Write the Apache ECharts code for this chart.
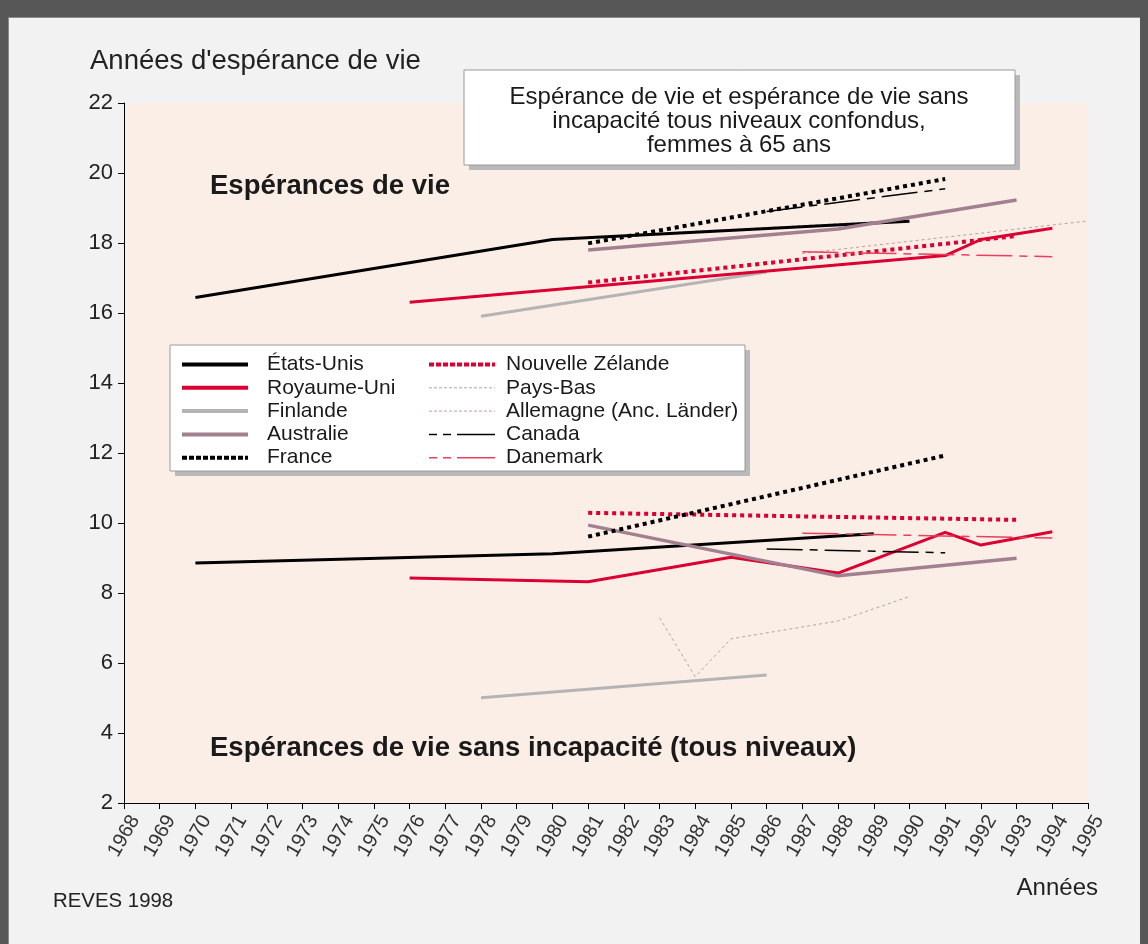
<!DOCTYPE html>
<html>
<head>
<meta charset="utf-8">
<script src="https://cdn.jsdelivr.net/npm/echarts@6/dist/echarts.min.js"></script>
<style>
  html, body { margin: 0; padding: 0; background: #575757; }
  #panel { position: absolute; left: 8px; top: 17px; width: 1132px; height: 927px; background: #f2f2f2; box-shadow: inset 1px 1px 0 #8a8a8a; }
  #chart { position: absolute; left: 0; top: 0; width: 1148px; height: 944px; }
</style>
</head>
<body>
<div id="panel"></div>
<div id="chart"></div>
<script>
// axes
const yearTicks = [1968, 1995];
const valueTicks = [2, 22];

// espérance de vie (haut)
const usYearsLE = [1970, 1980, 1990];
const usLE = [16.44, 18.1, 18.62];
const ukYearsLE = [1976, 1991, 1992, 1994];
const ukLE = [16.31, 17.64, 18.1, 18.42];
const fiYearsLE = [1978, 1986];
const fiLE = [15.91, 17.17];
const auYearsLE = [1981, 1988, 1993];
const auLE = [17.8, 18.4, 19.23];
const frYearsLE = [1981, 1991];
const frLE = [17.99, 19.83];
const nzYearsLE = [1981, 1993];
const nzLE = [16.87, 18.2];
const nlYearsLE = [1983, 1990];
const nlLE = [18.28, 18.66];
const deYearsLE = [1987, 1995];
const deLE = [17.7, 18.63];
const caYearsLE = [1986, 1991];
const caLE = [18.9, 19.55];
const dkYearsLE = [1987, 1994];
const dkLE = [17.75, 17.61];

// espérance de vie sans incapacité (bas)
const usYearsDF = [1970, 1980, 1989];
const usDF = [8.86, 9.12, 9.69];
const ukYearsDF = [1976, 1981, 1985, 1988, 1991, 1992, 1994];
const ukDF = [8.43, 8.32, 9.02, 8.57, 9.73, 9.37, 9.75];
const fiYearsDF = [1978, 1986];
const fiDF = [5.01, 5.66];
const auYearsDF = [1981, 1988, 1993];
const auDF = [9.94, 8.49, 8.99];
const frYearsDF = [1981, 1991];
const frDF = [9.61, 11.93];
const nzYearsDF = [1981, 1993];
const nzDF = [10.29, 10.09];
const nlYearsDF = [1983, 1984, 1985, 1988, 1990];
const nlDF = [7.29, 5.61, 6.69, 7.2, 7.9];
const caYearsDF = [1986, 1991];
const caDF = [9.26, 9.15];
const dkYearsDF = [1987, 1994];
const dkDF = [9.71, 9.57];

const FONT = '"Liberation Sans", Arial, sans-serif';
const RED = '#dc0032';

const styles = {
  'États-Unis': { color: '#000', width: 3, type: 'solid' },
  'Royaume-Uni': { color: RED, width: 3, type: 'solid' },
  'Finlande': { color: '#b4b4b4', width: 3, type: 'solid' },
  'Australie': { color: '#a3808f', width: 3.5, type: 'solid' },
  'France': { color: '#000', width: 4, type: [4, 4] },
  'Nouvelle Zélande': { color: RED, width: 4, type: [4, 4] },
  'Pays-Bas': { color: '#a8a8a8', width: 1, type: [3, 3] },
  'Allemagne (Anc. Länder)': { color: '#c39aa3', width: 1, type: [3, 3] },
  'Canada': { color: '#000', width: 1.5, type: [36, 7, 8, 7] },
  'Danemark': { color: '#e8405f', width: 1.5, type: [36, 7, 8, 7] },
};

const legendStyles = {
  'États-Unis': { width: 4, type: 'solid' },
  'Royaume-Uni': { width: 4, type: 'solid' },
  'Finlande': { width: 4, type: 'solid' },
  'Australie': { width: 4, type: 'solid' },
  'France': { width: 4, type: [5, 2] },
  'Nouvelle Zélande': { width: 4, type: [5, 2] },
  'Pays-Bas': { width: 1, type: [3, 2] },
  'Allemagne (Anc. Länder)': { width: 1, type: [3, 2] },
  'Canada': { width: 1.5, type: [8, 6, 8, 6, 44, 0] },
  'Danemark': { width: 1.5, type: [8, 6, 8, 6, 44, 0] },
};

const pairs = (years, values) => years.map((y, i) => [y, values[i]]);

const line = (name, years, values, z) => ({
  name,
  type: 'line',
  data: pairs(years, values),
  symbol: 'none',
  color: styles[name].color,
  lineStyle: { ...styles[name] },
  z,
  silent: true,
});

const series = [
  line('Pays-Bas', nlYearsLE, nlLE, 2),
  line('Pays-Bas', nlYearsDF, nlDF, 2),
  line('Allemagne (Anc. Länder)', deYearsLE, deLE, 2),
  line('Finlande', fiYearsLE, fiLE, 3),
  line('Finlande', fiYearsDF, fiDF, 3),
  line('Nouvelle Zélande', nzYearsLE, nzLE, 3),
  line('Nouvelle Zélande', nzYearsDF, nzDF, 3),
  line('Royaume-Uni', ukYearsLE, ukLE, 4),
  line('Royaume-Uni', ukYearsDF, ukDF, 4),
  line('États-Unis', usYearsLE, usLE, 4),
  line('États-Unis', usYearsDF, usDF, 4),
  line('Australie', auYearsLE, auLE, 5),
  line('Australie', auYearsDF, auDF, 5),
  line('France', frYearsLE, frLE, 5),
  line('France', frYearsDF, frDF, 5),
  line('Canada', caYearsLE, caLE, 6),
  line('Canada', caYearsDF, caDF, 6),
  line('Danemark', dkYearsLE, dkLE, 6),
  line('Danemark', dkYearsDF, dkDF, 6),
];

const legendCol = (names, left, padLeft) => ({
  show: true,
  orient: 'vertical',
  left,
  top: 354,
  padding: 0,
  itemWidth: 66,
  itemHeight: 14,
  itemGap: 2.3,
  selectedMode: false,
  z: 10,
  textStyle: { fontFamily: FONT, fontSize: 21, color: '#1a1a1a', padding: [0, 0, 0, padLeft] },
  data: names.map(n => ({
    name: n,
    itemStyle: { opacity: 0 },
    lineStyle: { color: styles[n].color, width: legendStyles[n].width, type: legendStyles[n].type },
  })),
});

const chart = echarts.init(document.getElementById('chart'));
chart.setOption({
  animation: false,
  backgroundColor: 'transparent',
  grid: {
    show: true,
    left: 124,
    right: 60,
    top: 103,
    bottom: 141,
    backgroundColor: '#fbeee6',
    borderWidth: 0,
  },
  xAxis: {
    type: 'value',
    min: yearTicks[0],
    max: yearTicks[1],
    interval: 1,
    axisLine: { show: true, lineStyle: { color: '#000', width: 1 } },
    axisTick: { show: true, length: 6, lineStyle: { color: '#000' } },
    axisLabel: {
      rotate: 60,
      align: 'center',
      verticalAlign: 'middle',
      margin: 33,
      fontFamily: FONT,
      fontSize: 20,
      color: '#333',
      formatter: v => String(v),
    },
    splitLine: { show: false },
  },
  yAxis: {
    type: 'value',
    min: valueTicks[0],
    max: valueTicks[1],
    interval: 2,
    axisLine: { show: true, lineStyle: { color: '#000', width: 1 } },
    axisTick: { show: true, length: 6, lineStyle: { color: '#000' } },
    axisLabel: { fontFamily: FONT, fontSize: 22, color: '#222', margin: 11 },
    splitLine: { show: false },
  },
  legend: [
    legendCol(['États-Unis', 'Royaume-Uni', 'Finlande', 'Australie', 'France'], 180, 14),
    legendCol(['Nouvelle Zélande', 'Pays-Bas', 'Allemagne (Anc. Länder)', 'Canada', 'Danemark'], 427, 6),
  ],
  graphic: [
    { type: 'rect', z: 3, shape: { x: 469, y: 75, width: 551, height: 95 }, style: { fill: '#b9b9b9' } },
    { type: 'rect', z: 3, shape: { x: 464, y: 70, width: 551, height: 95 }, style: { fill: '#fff', stroke: '#9a9a9a', lineWidth: 1 } },
    { type: 'rect', z: 3, shape: { x: 175, y: 350, width: 575, height: 126 }, style: { fill: '#b9b9b9' } },
    { type: 'rect', z: 3, shape: { x: 170, y: 345, width: 575, height: 126 }, style: { fill: '#fff', stroke: '#9a9a9a', lineWidth: 1 } },
    {
      type: 'text', z: 5, x: 739, y: 121,
      style: {
        text: 'Espérance de vie et espérance de vie sans\nincapacité tous niveaux confondus,\nfemmes à 65 ans',
        font: '24px ' + FONT, fill: '#1a1a1a', lineHeight: 24,
        align: 'center', verticalAlign: 'middle', textAlign: 'center', textVerticalAlign: 'middle',
      },
    },
    {
      type: 'text', z: 5, x: 90, y: 61,
      style: { text: "Années d'espérance de vie", font: '27.5px ' + FONT, fill: '#222', align: 'left', verticalAlign: 'middle', textAlign: 'left', textVerticalAlign: 'middle' },
    },
    {
      type: 'text', z: 5, x: 210, y: 186,
      style: { text: 'Espérances de vie', font: 'bold 27.5px ' + FONT, fill: '#1a1a1a', align: 'left', verticalAlign: 'middle', textAlign: 'left', textVerticalAlign: 'middle' },
    },
    {
      type: 'text', z: 5, x: 210, y: 748,
      style: { text: 'Espérances de vie sans incapacité (tous niveaux)', font: 'bold 27.5px ' + FONT, fill: '#1a1a1a', align: 'left', verticalAlign: 'middle', textAlign: 'left', textVerticalAlign: 'middle' },
    },
    {
      type: 'text', z: 5, x: 1098, y: 888,
      style: { text: 'Années', font: '24px ' + FONT, fill: '#222', align: 'right', verticalAlign: 'middle', textAlign: 'right', textVerticalAlign: 'middle' },
    },
    {
      type: 'text', z: 5, x: 53, y: 901,
      style: { text: 'REVES 1998', font: '20.4px ' + FONT, fill: '#222', align: 'left', verticalAlign: 'middle', textAlign: 'left', textVerticalAlign: 'middle' },
    },
  ],
  series,
});
</script>
</body>
</html>
